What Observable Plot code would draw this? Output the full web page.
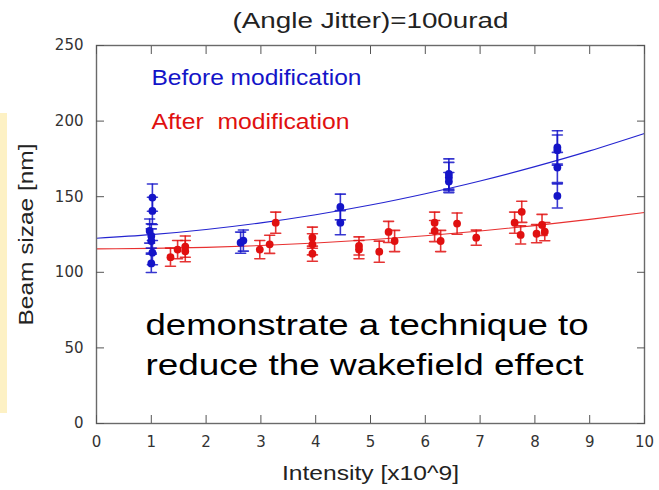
<!DOCTYPE html>
<html><head><meta charset="utf-8">
<script src="https://cdn.jsdelivr.net/npm/d3@7"></script>
<script src="https://cdn.jsdelivr.net/npm/@observablehq/plot@0.6"></script>
<style>
body{margin:0;background:#fff;}
#wrap{position:relative;width:659px;height:490px;}
#bar{position:absolute;left:0;top:113px;width:7px;height:300px;background:#fdf1c4;}
#chart{position:absolute;left:0;top:0;}
</style></head><body><div id="wrap"><div id="bar"></div><div id="chart"></div></div>
<script>
const titleText = "(Angle Jitter)=100urad";
const xLabel = "Intensity [x10^9]";
const yLabel = "Beam sizae [nm]";
const seriesNames = ["Before modification", "After  modification"];
const noteLines = ["demonstrate a technique to", "reduce the wakefield effect"];
const xTicks = [0, 1, 2, 3, 4, 5, 6, 7, 8, 9, 10];
const yTicks = [0, 50, 100, 150, 200, 250];

// Before modification (blue)
const beforeX   = [0.97, 1.00, 1.02, 1.02, 1.00, 1.02, 1.00, 2.63, 2.68, 4.45, 4.45, 6.43, 6.43, 6.43, 8.41, 8.41, 8.41, 8.41];
const beforeY   = [127.3, 124.0, 149.4, 140.6, 120.7, 113.0, 105.9, 119.6, 121.0, 143.2, 132.8, 162.7, 165.0, 160.0, 182.6, 180.8, 169.3, 150.5];
const beforeErr = [8, 8, 9, 9, 8, 8, 6, 7, 7, 8.5, 8, 10, 10, 6, 11, 10, 10, 8];

// After modification (red)
const afterX   = [1.35, 1.48, 1.62, 1.62, 2.98, 3.16, 3.27, 3.94, 3.94, 3.94, 4.79, 4.79, 5.16, 5.33, 5.44, 6.17, 6.17, 6.28, 6.58, 6.93, 7.63, 7.76, 7.74, 8.03, 8.13, 8.18];
const afterY   = [110.0, 115.0, 114.0, 117.0, 115.0, 118.5, 132.8, 122.9, 118.5, 112.3, 117.4, 115.0, 113.6, 126.7, 120.7, 132.8, 127.3, 120.7, 132.2, 122.9, 132.8, 140.0, 124.7, 125.5, 131.3, 126.9];
const afterErr = [6, 6, 7, 7, 6, 6, 7, 7, 7, 5, 6, 6, 7, 7, 7, 7, 7, 7, 7, 5, 7, 7, 6, 6, 7, 6];

// fitted curves
const fitX      = [0, 1, 2, 3, 4, 5, 6, 7, 8, 9, 10];
const beforeFit = [122.5, 124.9, 128.3, 132.7, 138.1, 144.5, 152.0, 160.4, 169.9, 180.3, 191.8];
const afterFit  = [115.5, 115.8, 116.5, 117.7, 119.4, 121.5, 124.2, 127.3, 130.9, 135.0, 139.5];

const BLUE = "#1414c8", RED = "#e01010";
const before = beforeX.map((x, i) => ({x, y: beforeY[i], lo: beforeY[i] - beforeErr[i], hi: beforeY[i] + beforeErr[i]}));
const after = afterX.map((x, i) => ({x, y: afterY[i], lo: afterY[i] - afterErr[i], hi: afterY[i] + afterErr[i]}));
const fitB = fitX.map((x, i) => ({x, y: beforeFit[i]}));
const fitA = fitX.map((x, i) => ({x, y: afterFit[i]}));

const lineShape = {draw(ctx, l) { ctx.moveTo(0, 0); ctx.lineTo(0, -l); }};

function seriesMarks(data, color) {
  return [
    Plot.ruleX(data, {x: "x", y1: "lo", y2: "hi", stroke: color, strokeWidth: 1.6, strokeOpacity: 0.85}),
    Plot.vector(data, {x: "x", y: "hi", length: 10, rotate: 90, anchor: "middle", shape: lineShape, stroke: color, strokeWidth: 1.6, strokeOpacity: 0.85}),
    Plot.vector(data, {x: "x", y: "lo", length: 10, rotate: 90, anchor: "middle", shape: lineShape, stroke: color, strokeWidth: 1.6, strokeOpacity: 0.85}),
    Plot.dot(data, {x: "x", y: "y", r: 3.9, fill: color, stroke: "none"})
  ];
}

const chart = Plot.plot({
  width: 659, height: 490,
  marginTop: 45, marginLeft: 96, marginRight: 15, marginBottom: 67,
  style: {fontFamily: "DejaVu Sans", fontSize: "15px", background: "transparent", overflow: "visible"},
  x: {domain: [0, 10]},
  y: {domain: [0, 250]},
  marks: [
    Plot.line(fitA, {x: "x", y: "y", stroke: "#e83030", strokeWidth: 1.1, curve: "natural"}),
    Plot.line(fitB, {x: "x", y: "y", stroke: "#2424d0", strokeWidth: 1.1, curve: "natural"}),
    ...seriesMarks(after, RED),
    ...seriesMarks(before, BLUE),
    Plot.frame({stroke: "#6a6a6a", strokeWidth: 1.4}),
    Plot.axisX(xTicks, {anchor: "bottom", tickSize: -8, tickPadding: 21, stroke: "#555", fill: "#333", label: null, fontSize: 15}),
    Plot.axisX(xTicks, {anchor: "top", tickSize: -8, tickFormat: () => "", stroke: "#555", label: null}),
    Plot.axisY(yTicks, {anchor: "left", tickSize: -8, tickPadding: 21, stroke: "#555", fill: "#333", label: null, fontSize: 15}),
    Plot.axisY(yTicks, {anchor: "right", tickSize: -8, tickFormat: () => "", stroke: "#555", label: null}),
    Plot.text([titleText], {frameAnchor: "top", dy: -25, textAnchor: "middle", fontFamily: "Liberation Sans", fontSize: 22, fill: "#222", lineAnchor: "middle"}),
    Plot.text([xLabel], {frameAnchor: "bottom", dy: 50, textAnchor: "middle", fontFamily: "Liberation Sans", fontSize: 20, fill: "#222", lineAnchor: "middle"}),
    Plot.text([yLabel], {frameAnchor: "left", dx: -70, rotate: -90, textAnchor: "middle", fontFamily: "Liberation Sans", fontSize: 20, fill: "#222", lineAnchor: "middle"}),
    Plot.text([seriesNames[0]], {frameAnchor: "top-left", dx: 55, dy: 32, textAnchor: "start", fontFamily: "Liberation Sans", fontSize: 22, fill: BLUE, lineAnchor: "middle"}),
    Plot.text([seriesNames[1]], {frameAnchor: "top-left", dx: 55, dy: 76, textAnchor: "start", fontFamily: "Liberation Sans", fontSize: 22, fill: RED, lineAnchor: "middle"}),
    ...noteLines.map((t, i) => Plot.text([t], {frameAnchor: "top-left", dx: 49, dy: 280 + 40 * i, textAnchor: "start", fontFamily: "Liberation Sans", fontSize: 30, fill: "#000", lineAnchor: "middle"}))
  ]
});

// horizontal stretch of the slide text, as in the picture
const textWidths = new Map([
  [titleText, 276], [xLabel, 177], [yLabel, 182],
  [seriesNames[0], 210], [seriesNames[1], 198],
  [noteLines[0], 443], [noteLines[1], 438]
]);
d3.select(chart).selectAll("text").each(function() {
  const w = textWidths.get(this.textContent);
  if (w) {
    this.setAttribute("textLength", w);
    this.setAttribute("lengthAdjust", "spacingAndGlyphs");
    this.style.whiteSpace = "pre";
  }
});
document.getElementById("chart").appendChild(chart);
</script>
</body></html>
